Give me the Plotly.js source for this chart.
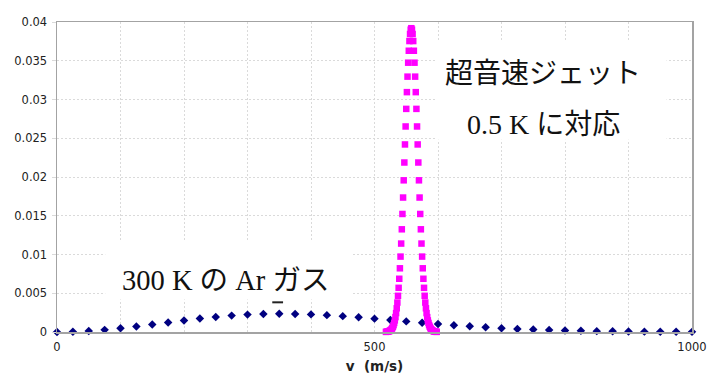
<!DOCTYPE html>
<html>
<head>
<meta charset="utf-8">
<script src="https://cdn.plot.ly/plotly-3.0.1.min.js"></script>
<style>
html,body{margin:0;padding:0;background:#fff;}
#chart{width:707px;height:379px;}
</style>
</head>
<body>
<div id="chart"></div>
<script>
// 300 K Ar gas (Maxwell distribution), every 25 m/s
const argonV = [0,25,50,75,100,125,150,175,200,225,250,275,300,325,350,375,400,425,450,475,500,
  525,550,575,600,625,650,675,700,725,750,775,800,825,850,875,900,925,950,975,1000];
const argonF = [0,0.000032,0.000126,0.000276,0.000474,0.000707,0.000964,0.001229,0.001489,0.001730,
  0.001942,0.002114,0.002242,0.002321,0.002351,0.002334,0.002273,0.002175,0.002046,0.001893,
  0.001725,0.001548,0.001370,0.001195,0.001028,0.000872,0.000730,0.000604,0.000493,0.000397,
  0.000316,0.000249,0.000193,0.000148,0.000112,0.000084,0.000062,0.000046,0.000033,0.000024,0.000017];

// Supersonic jet (0.5 K), every 1 m/s
const jetV = [518,519,520,521,522,523,524,525,526,527,528,529,530,531,532,533,534,535,536,537,
  538,539,540,541,542,543,544,545,546,547,548,549,550,551,552,553,554,555,556,557,558,
  559,560,561,562,563,564,565,566,567,568,569,570,571,572,573,574,575,576,577,578,
  579,580,581,582,583,584,585,586,587,588,589,590,591,592,593,594,595,596,597,598];
const jetF = [0.000017,0.000026,0.000037,0.000053,0.000076,0.00011,0.00015,0.00021,0.00028,0.00038,
  0.00051,0.00068,0.00089,0.00117,0.00150,0.00192,0.00244,0.00306,0.00380,0.00467,
  0.00570,0.00687,0.00822,0.00973,0.01141,0.01325,0.01523,0.01735,0.01957,0.02187,
  0.02420,0.02652,0.02879,0.03095,0.03295,0.03475,0.03629,0.03754,0.03845,0.03901,0.03920,
  0.03901,0.03845,0.03754,0.03629,0.03475,0.03295,0.03095,0.02879,0.02652,0.02420,
  0.02187,0.01957,0.01735,0.01523,0.01325,0.01141,0.00973,0.00822,0.00687,0.00570,
  0.00467,0.00380,0.00306,0.00244,0.00192,0.00150,0.00117,0.00089,0.00068,0.00051,
  0.00038,0.00028,0.00021,0.00015,0.00011,0.000076,0.000053,0.000037,0.000026,0.000017];

const yTickVals = [0,0.005,0.01,0.015,0.02,0.025,0.03,0.035,0.04];
const yTickLabels = ['0','0.005','0.01','0.015','0.02','0.025','0.03','0.035','0.04'];
const xTickVals = [0,500,1000];
const xTickLabels = ['0','500','1000'];

const jpFont = '"Liberation Serif", "Times New Roman", "Noto Sans CJK JP", serif';
const gridColor = '#dadada';

const traces = [
  {x: argonV, y: argonF, type: 'scatter', mode: 'markers', name: '300 K',
   marker: {symbol: 'diamond', size: 6.5, color: '#000080'}, cliponaxis: false},
  {x: jetV, y: jetF, type: 'scatter', mode: 'markers', name: '0.5 K',
   marker: {symbol: 'square', size: 6.5, color: '#ff00ff'}, cliponaxis: false}
];

const layout = {
  width: 707, height: 379,
  margin: {l: 57, r: 15, t: 22, b: 47},
  paper_bgcolor: '#fff', plot_bgcolor: '#fff',
  showlegend: false,
  font: {family: '"DejaVu Sans", Verdana, sans-serif', size: 11.5, color: '#222'},
  xaxis: {
    range: [0, 1000], tickvals: xTickVals, ticktext: xTickLabels,
    showgrid: true, gridcolor: gridColor, griddash: '2px,2px', gridwidth: 1,
    minor: {dtick: 100, showgrid: true, gridcolor: gridColor, griddash: '2px,2px', gridwidth: 1},
    showline: true, linecolor: '#a3a3a3', linewidth: 1.5, mirror: true,
    ticks: '', zeroline: false, ticklabelstandoff: 4,
    title: {text: 'v\u00a0\u00a0(m/s)', font: {family: '"DejaVu Sans", Verdana, sans-serif', size: 13.5, weight: 'bold', color: '#222'}, standoff: 8}
  },
  yaxis: {
    range: [0, 0.04], tickvals: yTickVals, ticktext: yTickLabels,
    showgrid: true, gridcolor: gridColor, griddash: '2px,2px', gridwidth: 1,
    showline: true, linecolor: '#a3a3a3', linewidth: 1.5, mirror: true,
    ticks: 'outside', ticklen: 4, tickcolor: gridColor, zeroline: false, ticklabelstandoff: 2
  },
  shapes: [
    {type: 'rect', xref: 'x', yref: 'y', x0: 597, x1: 960, y0: 0.0248, y1: 0.0375,
     fillcolor: '#fff', line: {width: 0}, layer: 'between'},
    {type: 'rect', xref: 'x', yref: 'y', x0: 76, x1: 465, y0: 0.0042, y1: 0.0118,
     fillcolor: '#fff', line: {width: 0}, layer: 'between'},
    {type: 'line', xref: 'x', yref: 'y', x0: 339, x1: 356, y0: 0.00383, y1: 0.00383,
     line: {color: '#222', width: 2}}
  ],
  annotations: [
    {xref: 'x', yref: 'y', x: 765, y: 0.0333, text: '超音速ジェット', showarrow: false,
     xanchor: 'center', yanchor: 'middle', font: {family: jpFont, size: 28, color: '#111'}},
    {xref: 'x', yref: 'y', x: 765.5, y: 0.0268, text: '0.5 K に対応', showarrow: false,
     xanchor: 'center', yanchor: 'middle', font: {family: jpFont, size: 28, color: '#111'}},
    {xref: 'x', yref: 'y', x: 265, y: 0.0067, text: '300\u00a0K\u00a0の\u00a0Ar\u00a0ガス', showarrow: false,
     xanchor: 'center', yanchor: 'middle', font: {family: jpFont, size: 28.5, color: '#111'}}
  ]
};

Plotly.newPlot('chart', traces, layout, {staticPlot: true, displayModeBar: false});
</script>
</body>
</html>
